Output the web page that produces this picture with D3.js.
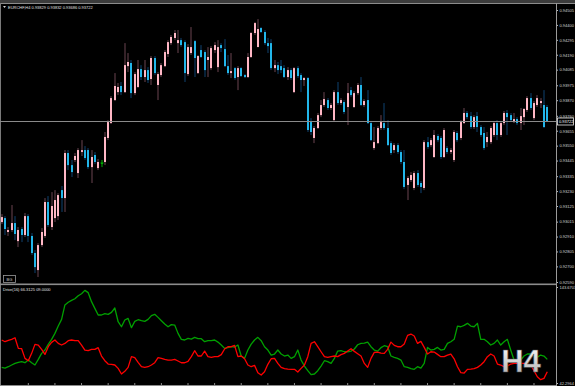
<!DOCTYPE html>
<html>
<head>
<meta charset="utf-8">
<script src="https://cdn.jsdelivr.net/npm/d3@7/dist/d3.min.js"></script>
<style>
html, body { margin: 0; padding: 0; background: #000; overflow: hidden; }
svg { display: block; }
text { font-family: "Liberation Sans", Arial, sans-serif; }
</style>
</head>
<body>
<div id="chart"></div>
<script>
// EURCHF H4 bars, oldest first
var open = [
  0.93012,0.93040,0.92942,0.92956,0.93005,0.92878,0.92963,0.92921,0.93054,0.92914,
  0.92794,0.92674,0.92850,0.92914,0.93153,0.92977,0.93040,0.93054,0.93237,0.93181,
  0.93498,0.93413,0.93449,0.93357,0.93505,0.93519,0.93519,0.93399,0.93484,0.93392,
  0.93428,0.93435,0.93604,0.93709,0.93871,0.93927,0.93970,0.93927,0.94110,0.94132,
  0.93920,0.93963,0.94089,0.94033,0.94082,0.94019,0.94167,0.93977,0.94047,0.94110,
  0.94195,0.94272,0.94308,0.94272,0.94293,0.94279,0.94054,0.94202,0.94286,0.94061,
  0.94223,0.94209,0.94153,0.94096,0.94223,0.94103,0.94258,0.94230,0.94110,0.94061,
  0.94096,0.94033,0.94096,0.94047,0.94033,0.94174,0.94343,0.94244,0.94378,0.94350,
  0.94272,0.94272,0.94096,0.94117,0.94110,0.94096,0.94033,0.94082,0.93927,0.94096,
  0.94047,0.94012,0.94026,0.93716,0.93604,0.93674,0.93765,0.93836,0.93871,0.93815,
  0.93730,0.93927,0.93850,0.93857,0.93822,0.93941,0.93822,0.93920,0.93977,0.93836,
  0.93871,0.93709,0.93533,0.93568,0.93674,0.93709,0.93674,0.93568,0.93519,0.93554,
  0.93505,0.93435,0.93273,0.93308,0.93252,0.93357,0.93287,0.93252,0.93575,0.93554,
  0.93470,0.93618,0.93604,0.93470,0.93533,0.93505,0.93449,0.93639,0.93604,0.93709,
  0.93780,0.93758,0.93681,0.93758,0.93681,0.93639,0.93575,0.93575,0.93625,0.93709,
  0.93625,0.93709,0.93780,0.93765,0.93716,0.93737,0.93709,0.93751,0.93801,0.93885,
  0.93744,0.93836,0.93850,0.93836,0.93822
];
var high = [
  0.93068,0.93054,0.92977,0.93132,0.93054,0.92977,0.92977,0.93076,0.93068,0.92935,
  0.92815,0.92864,0.92970,0.93181,0.93195,0.93223,0.93237,0.93216,0.93266,0.93519,
  0.93519,0.93449,0.93498,0.93533,0.93589,0.93547,0.93533,0.93519,0.93505,0.93456,
  0.93449,0.93646,0.93730,0.93899,0.94061,0.93991,0.93998,0.94272,0.94202,0.94153,
  0.94068,0.94153,0.94117,0.94153,0.94103,0.94181,0.94181,0.94068,0.94132,0.94223,
  0.94293,0.94329,0.94364,0.94364,0.94308,0.94293,0.94265,0.94385,0.94293,0.94188,
  0.94258,0.94223,0.94244,0.94251,0.94279,0.94293,0.94272,0.94300,0.94188,0.94202,
  0.94103,0.94110,0.94103,0.94054,0.94202,0.94350,0.94420,0.94441,0.94385,0.94364,
  0.94308,0.94300,0.94153,0.94139,0.94153,0.94117,0.94103,0.94096,0.94103,0.94110,
  0.94061,0.94033,0.94033,0.93744,0.93688,0.93780,0.93871,0.93927,0.93885,0.93850,
  0.93941,0.93998,0.93885,0.93871,0.93991,0.93963,0.93934,0.93991,0.94033,0.93878,
  0.93941,0.93723,0.93681,0.93688,0.93765,0.93850,0.93730,0.93582,0.93568,0.93568,
  0.93519,0.93519,0.93336,0.93364,0.93371,0.93378,0.93301,0.93589,0.93611,0.93604,
  0.93660,0.93632,0.93618,0.93674,0.93547,0.93533,0.93660,0.93653,0.93730,0.93815,
  0.93794,0.93787,0.93765,0.93787,0.93695,0.93681,0.93646,0.93688,0.93723,0.93730,
  0.93723,0.93794,0.93801,0.93780,0.93780,0.93751,0.93815,0.93815,0.93899,0.93920,
  0.93864,0.93906,0.93885,0.93941,0.93836
];
var low = [
  0.92998,0.92921,0.92914,0.92942,0.92885,0.92836,0.92871,0.92907,0.92871,0.92780,
  0.92653,0.92625,0.92836,0.92900,0.92977,0.92956,0.93012,0.93026,0.93083,0.93083,
  0.93378,0.93329,0.93435,0.93322,0.93477,0.93449,0.93385,0.93287,0.93420,0.93378,
  0.93399,0.93413,0.93589,0.93702,0.93864,0.93906,0.93906,0.93920,0.94068,0.93885,
  0.93906,0.93956,0.94012,0.93998,0.93991,0.93977,0.94047,0.93871,0.94033,0.94103,
  0.94174,0.94258,0.94293,0.94202,0.94244,0.93998,0.94040,0.94188,0.94033,0.94054,
  0.94167,0.94033,0.94033,0.94082,0.94202,0.94068,0.94209,0.94103,0.94047,0.94026,
  0.94012,0.93941,0.94033,0.94026,0.94026,0.94167,0.94329,0.94244,0.94343,0.94258,
  0.94202,0.94082,0.94068,0.94054,0.94061,0.94026,0.94012,0.94012,0.93920,0.94026,
  0.93927,0.93970,0.93646,0.93625,0.93568,0.93667,0.93751,0.93822,0.93801,0.93801,
  0.93723,0.93836,0.93836,0.93772,0.93695,0.93892,0.93815,0.93906,0.93829,0.93822,
  0.93702,0.93582,0.93519,0.93561,0.93660,0.93660,0.93547,0.93484,0.93498,0.93491,
  0.93420,0.93244,0.93167,0.93294,0.93237,0.93259,0.93216,0.93237,0.93526,0.93540,
  0.93463,0.93575,0.93456,0.93463,0.93491,0.93491,0.93435,0.93575,0.93589,0.93702,
  0.93737,0.93667,0.93667,0.93646,0.93611,0.93519,0.93540,0.93561,0.93611,0.93589,
  0.93611,0.93695,0.93625,0.93716,0.93709,0.93695,0.93660,0.93695,0.93787,0.93801,
  0.93730,0.93822,0.93815,0.93674,0.93716
];
var close = [
  0.93047,0.92963,0.92956,0.93005,0.92928,0.92956,0.92921,0.93054,0.92914,0.92794,
  0.92695,0.92850,0.92942,0.93153,0.92991,0.93125,0.93167,0.93202,0.93181,0.93498,
  0.93413,0.93364,0.93477,0.93519,0.93519,0.93463,0.93399,0.93470,0.93435,0.93435,
  0.93428,0.93611,0.93716,0.93885,0.93970,0.93963,0.93927,0.94117,0.94139,0.93920,
  0.94054,0.94089,0.94033,0.94082,0.94012,0.94167,0.94061,0.94054,0.94117,0.94209,
  0.94279,0.94315,0.94343,0.94293,0.94258,0.94061,0.94244,0.94244,0.94167,0.94181,
  0.94174,0.94082,0.94174,0.94237,0.94258,0.94244,0.94237,0.94110,0.94061,0.94075,
  0.94026,0.94096,0.94040,0.94033,0.94174,0.94343,0.94413,0.94371,0.94350,0.94272,
  0.94251,0.94096,0.94117,0.94082,0.94082,0.94033,0.94082,0.94026,0.94096,0.94040,
  0.94012,0.94026,0.93660,0.93646,0.93674,0.93765,0.93836,0.93878,0.93815,0.93836,
  0.93927,0.93850,0.93871,0.93787,0.93920,0.93906,0.93920,0.93977,0.93836,0.93864,
  0.93709,0.93589,0.93575,0.93674,0.93716,0.93674,0.93554,0.93498,0.93554,0.93505,
  0.93435,0.93259,0.93322,0.93343,0.93357,0.93273,0.93259,0.93575,0.93540,0.93589,
  0.93625,0.93589,0.93470,0.93660,0.93505,0.93519,0.93646,0.93589,0.93716,0.93780,
  0.93751,0.93681,0.93751,0.93681,0.93625,0.93533,0.93611,0.93674,0.93709,0.93625,
  0.93709,0.93780,0.93751,0.93730,0.93737,0.93709,0.93758,0.93808,0.93885,0.93815,
  0.93850,0.93885,0.93864,0.93681,0.93722
];

// Drive(16) indicator, two lines, one value per bar
var driveGreen = [
  58.8,58.1,59.5,61.3,63.0,64.1,64.8,63.7,66.5,63.7,61.3,67.2,73.6,77.1,83.1,88.4,94.7,102.4,109.5,124.7,
  127.5,129.6,131.3,134.5,136.6,140.1,137.7,128.2,121.1,114.1,114.1,115.5,114.8,116.9,121.5,107.0,101.7,108.8,110.5,100.7,
  107.4,109.1,108.1,107.4,109.5,113.4,114.8,111.6,108.1,104.6,101.7,103.9,103.5,94.7,88.4,87.7,89.4,88.7,90.5,89.1,
  89.1,85.9,87.0,87.0,87.7,85.5,82.4,78.9,79.6,80.6,80.3,82.4,70.8,68.3,77.1,83.4,87.7,90.5,87.0,80.6,
  77.1,71.8,72.9,77.1,72.9,70.8,71.8,68.3,70.1,77.1,66.5,60.2,55.3,51.1,51.8,55.3,60.2,65.8,64.8,63.0,
  68.3,76.0,76.4,75.3,75.3,76.0,78.2,82.7,84.1,84.5,85.5,80.6,77.1,76.0,79.6,81.7,80.6,70.8,69.4,68.3,
  66.5,59.5,58.8,57.4,56.7,59.5,58.1,63.0,79.9,77.1,77.8,79.9,77.1,77.8,84.1,85.9,88.4,102.4,101.7,103.1,
  105.3,102.4,101.7,105.3,88.4,88.4,85.9,82.4,84.1,87.7,82.4,85.9,88.4,77.1,66.5,64.8,66.5,70.8,72.9,72.9,
  71.8,69.4,71.8,70.8,67.2
];
var driveRed = [
  87.7,85.9,87.3,88.4,90.1,78.9,78.5,68.3,65.8,73.6,83.1,82.4,77.8,72.5,80.6,85.2,87.7,84.1,82.4,84.1,
  87.0,87.7,87.0,87.0,82.4,77.1,76.4,77.8,77.8,79.6,70.8,65.8,62.3,62.0,61.3,57.7,51.8,54.6,58.8,70.1,
  69.0,64.1,59.5,58.8,59.5,61.3,63.7,69.0,68.3,67.2,66.5,66.5,67.2,65.5,63.7,63.7,65.1,70.1,76.4,70.8,
  70.8,76.0,70.1,69.4,70.1,70.1,72.2,78.2,80.6,80.6,82.0,70.1,70.8,67.9,61.3,59.5,60.9,53.2,50.7,54.2,
  62.0,67.9,68.3,63.0,58.8,57.4,57.0,56.7,56.7,53.9,57.7,61.3,70.1,84.1,85.9,80.6,75.3,70.1,69.4,70.1,
  70.8,70.1,72.2,73.6,76.0,78.5,75.7,73.2,70.8,63.0,58.8,68.3,74.6,75.0,73.9,73.6,77.8,85.5,82.0,80.6,
  80.6,83.4,92.6,94.0,91.9,84.1,86.3,79.9,72.9,75.3,75.0,72.5,70.1,70.1,71.8,72.9,67.9,59.5,53.2,52.8,
  56.7,57.0,57.4,58.8,61.3,64.8,70.1,72.9,70.8,62.3,61.3,59.5,60.2,62.3,63.0,63.0,63.0,63.0,62.3,61.3,
  55.3,48.9,45.8,47.2,54.2
];

var priceTicks = [0.94505,0.94400,0.94295,0.94190,0.94085,0.93975,0.93870,0.93760,0.93655,0.93550,
                  0.93445,0.93335,0.93230,0.93125,0.93015,0.92910,0.92805,0.92700,0.92590];
var driveTicks = [143.6703, 42.2964];
var lastPrice = 0.93722;
var chartTitle = "EURCHF,H4  0.93829 0.93832 0.93686 0.93722";
var driveTitle = "Drive(16) 66.3125 09.0000";
var periodLabel = "H4";

var width = 575, height = 386;
var axisX = 556;
var n = close.length;

var bars = d3.range(n).map(function (i) {
    return {i: i, o: open[i], h: high[i], l: low[i], c: close[i]};
});

var svg = d3.select("#chart").append("svg")
    .attr("width", width)
    .attr("height", height);

svg.append("rect").attr("width", width).attr("height", height).attr("fill", "#000");

var defs = svg.append("defs");
defs.append("clipPath").attr("id", "mainclip")
    .append("rect").attr("x", 0).attr("y", 4).attr("width", axisX).attr("height", 279);
defs.append("clipPath").attr("id", "subclip")
    .append("rect").attr("x", 0).attr("y", 286).attr("width", axisX).attr("height", 99);
var grad = defs.append("linearGradient").attr("id", "h4grad")
    .attr("x1", 0).attr("y1", 0).attr("x2", 0).attr("y2", 1);
grad.append("stop").attr("offset", "0%").attr("stop-color", "#ffffff");
grad.append("stop").attr("offset", "100%").attr("stop-color", "#a9a9a9");

// scales
var x = d3.scaleLinear().domain([0, n - 1]).range([1.7, 547.3]);
var y = d3.scaleLinear().domain([0.92590, 0.94505]).range([282, 10]);
var y2 = d3.scaleLinear().domain([42.2964, 143.6703]).range([383, 287]);

// window frame bits from the terminal
svg.append("rect").attr("x", 0).attr("y", 0).attr("width", width).attr("height", 3).attr("fill", "#3c3c3c");
svg.append("line").attr("x1", 0).attr("x2", width).attr("y1", 3.5).attr("y2", 3.5).attr("stroke", "#8c8c8c");
svg.append("line").attr("x1", 0.5).attr("x2", 0.5).attr("y1", 3).attr("y2", height).attr("stroke", "#7a7a7a");

// main panel
var main = svg.append("g").attr("clip-path", "url(#mainclip)");

var candle = main.selectAll("g.bar").data(bars).enter().append("g").attr("class", "bar");
candle.append("line")
    .attr("x1", function (d) { return Math.round(x(d.i)); })
    .attr("x2", function (d) { return Math.round(x(d.i)); })
    .attr("y1", function (d) { return y(d.h); })
    .attr("y2", function (d) { return y(d.l); })
    .attr("stroke", function (d) {
        if (d.o == d.c) return "#00b000";
        return d.c > d.o ? "#6a4450" : "#0e4270";
    })
    .attr("stroke-width", 1);
candle.append("rect")
    .attr("x", function (d) { return Math.round(x(d.i)) - 1; })
    .attr("y", function (d) { return y(Math.max(d.o, d.c)); })
    .attr("width", 2)
    .attr("height", function (d) { return Math.max(1, Math.abs(y(d.o) - y(d.c))); })
    .attr("fill", function (d) {
        if (d.o == d.c) return "#00b000";
        return d.c > d.o ? "#ffb7c5" : "#22b6ea";
    });
// doji crossbar
candle.filter(function (d) { return d.o == d.c; }).append("line")
    .attr("x1", function (d) { return Math.round(x(d.i)) - 1.5; })
    .attr("x2", function (d) { return Math.round(x(d.i)) + 1.5; })
    .attr("y1", function (d) { return y(d.c); })
    .attr("y2", function (d) { return y(d.c); })
    .attr("stroke", "#00b000");

// bid line
main.append("line")
    .attr("x1", 0).attr("x2", axisX)
    .attr("y1", Math.round(y(lastPrice)) + 0.5).attr("y2", Math.round(y(lastPrice)) + 0.5)
    .attr("stroke", "#8a8a8a").attr("stroke-width", 1);

// price axis
var priceAxis = svg.append("g")
    .attr("transform", "translate(" + axisX + ",0)")
    .call(d3.axisRight(y).tickValues(priceTicks).tickFormat(d3.format(".5f")).tickSize(2).tickPadding(1.5));
priceAxis.select(".domain").remove();
priceAxis.selectAll(".tick line").attr("stroke", "#bdbdbd");
priceAxis.selectAll(".tick text").attr("fill", "#d6d6d6").style("font-size", "4px");
svg.append("line").attr("x1", axisX + 0.5).attr("x2", axisX + 0.5).attr("y1", 3).attr("y2", 284)
    .attr("stroke", "#9a9a9a");

// last price box
var ly = Math.round(y(lastPrice)) + 0.5;
svg.append("rect").attr("x", axisX + 1.5).attr("y", ly - 3.5).attr("width", 16).attr("height", 7)
    .attr("fill", "#000").attr("stroke", "#e6e6e6").attr("stroke-width", 0.8);
svg.append("text").attr("x", axisX + 3).attr("y", ly + 1.5)
    .attr("fill", "#ffffff").style("font-size", "4px").text(d3.format(".5f")(lastPrice));

// title
svg.append("path").attr("d", "M3,6 L6,6 L4.5,8 Z").attr("fill", "#d0d0d0");
svg.append("text").attr("x", 8).attr("y", 8.5).attr("fill", "#e0e0e0").style("font-size", "4px")
    .text(chartTitle);

// BG button
svg.append("rect").attr("x", 3.5).attr("y", 275.5).attr("width", 12).attr("height", 7)
    .attr("fill", "#000").attr("stroke", "#9a9a9a").attr("stroke-width", 0.8);
svg.append("text").attr("x", 9.5).attr("y", 280.5).attr("text-anchor", "middle")
    .attr("fill", "#cfcfcf").style("font-size", "4px").text("BG");

// separator between panels
svg.append("rect").attr("x", 0).attr("y", 283.5).attr("width", axisX + 1).attr("height", 1.6).attr("fill", "#8c8c8c");

// indicator panel
var sub = svg.append("g").attr("clip-path", "url(#subclip)");
var line = d3.line()
    .x(function (d, i) { return x(i); })
    .y(function (d) { return y2(d); });
sub.append("path").datum(driveGreen).attr("d", line)
    .attr("fill", "none").attr("stroke", "#00a000").attr("stroke-width", 1.3).attr("stroke-linejoin", "round");
sub.append("path").datum(driveRed).attr("d", line)
    .attr("fill", "none").attr("stroke", "#ff0000").attr("stroke-width", 1.3).attr("stroke-linejoin", "round");

svg.append("text").attr("x", 3).attr("y", 290.5).attr("fill", "#e0e0e0").style("font-size", "4px")
    .text(driveTitle);

var driveAxis = svg.append("g")
    .attr("transform", "translate(" + axisX + ",0)")
    .call(d3.axisRight(y2).tickValues(driveTicks).tickFormat(d3.format(".4f")).tickSize(2).tickPadding(1.5));
driveAxis.select(".domain").remove();
driveAxis.selectAll(".tick line").attr("stroke", "#bdbdbd");
driveAxis.selectAll(".tick text").attr("fill", "#d6d6d6").style("font-size", "4px");
svg.append("line").attr("x1", axisX + 0.5).attr("x2", axisX + 0.5).attr("y1", 284).attr("y2", height)
    .attr("stroke", "#9a9a9a");

// time axis edge at the bottom
var timeTicks = d3.range(20).map(function (k) { return x(8 * k + 8); });
svg.append("line").attr("x1", 0).attr("x2", axisX).attr("y1", 385.5).attr("y2", 385.5).attr("stroke", "#8c8c8c");
svg.selectAll("line.tt").data(timeTicks).enter().append("line").attr("class", "tt")
    .attr("x1", function (d) { return d; }).attr("x2", function (d) { return d; })
    .attr("y1", 383).attr("y2", 386).attr("stroke", "#8c8c8c");

// period watermark
svg.append("text").attr("x", 521).attr("y", 372).attr("text-anchor", "middle")
    .style("font-size", "31px").style("font-weight", "bold")
    .attr("fill", "url(#h4grad)").attr("stroke", "#505050").attr("stroke-width", 0.5)
    .text(periodLabel);
</script>
</body>
</html>
